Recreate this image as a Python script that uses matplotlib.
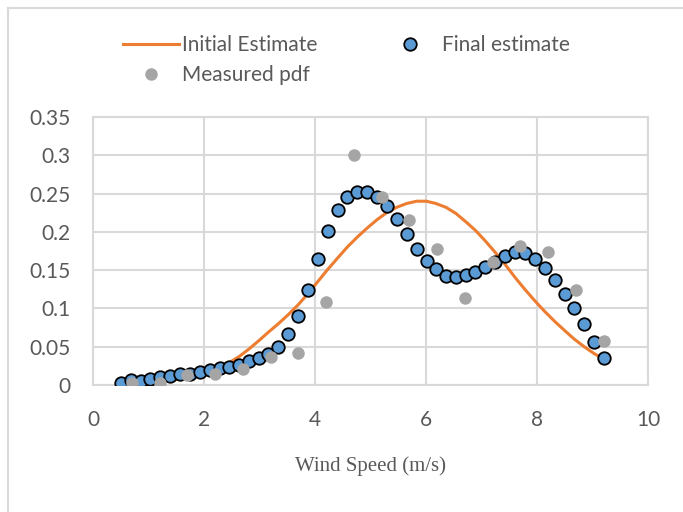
import matplotlib
matplotlib.use('Agg')
from matplotlib import pyplot as plt
from matplotlib.lines import Line2D

### DATA
# final estimate (blue markers) and initial estimate (orange line) share the x grid
speed_fit = [0.50, 0.68, 0.86, 1.03, 1.21, 1.39, 1.57, 1.74, 1.92, 2.10,
             2.28, 2.45, 2.63, 2.81, 2.99, 3.16, 3.34, 3.52, 3.70, 3.87,
             4.05, 4.23, 4.41, 4.58, 4.76, 4.94, 5.12, 5.29, 5.47, 5.65,
             5.83, 6.01, 6.18, 6.36, 6.54, 6.72, 6.89, 7.07, 7.25, 7.43,
             7.61, 7.78, 7.96, 8.14, 8.32, 8.50, 8.67, 8.85, 9.03, 9.20]
final_pdf = [0.002, 0.0065, 0.005, 0.0074, 0.010, 0.0117, 0.014, 0.015, 0.0166, 0.0196,
             0.0226, 0.024, 0.026, 0.0317, 0.0348, 0.041, 0.050, 0.066, 0.090, 0.124,
             0.164, 0.201, 0.229, 0.246, 0.2515, 0.2515, 0.246, 0.234, 0.2166, 0.197,
             0.178, 0.162, 0.151, 0.142, 0.1405, 0.1435, 0.148, 0.154, 0.161, 0.168,
             0.174, 0.173, 0.165, 0.153, 0.137, 0.119, 0.100, 0.080, 0.0565, 0.0356]
initial_pdf = [0.001, 0.0015, 0.002, 0.003, 0.004, 0.006, 0.008, 0.011, 0.014, 0.018,
               0.023, 0.029, 0.037, 0.047, 0.058, 0.069, 0.080, 0.092, 0.105, 0.119,
               0.135, 0.151, 0.166, 0.180, 0.193, 0.205, 0.216, 0.225, 0.232, 0.237,
               0.240, 0.240, 0.237, 0.232, 0.224, 0.213, 0.202, 0.188, 0.173, 0.157,
               0.140, 0.125, 0.110, 0.096, 0.083, 0.071, 0.060, 0.050, 0.041, 0.034]

speed_meas = [0.7, 1.2, 1.7, 2.2, 2.7, 3.2, 3.7, 4.2, 4.7,
              5.2, 5.7, 6.2, 6.7, 7.2, 7.7, 8.2, 8.7, 9.2]
measured_pdf = [0.002, 0.002, 0.013, 0.015, 0.021, 0.036, 0.042, 0.108, 0.3005,
                0.245, 0.216, 0.177, 0.1135, 0.161, 0.182, 0.174, 0.124, 0.058]

x_ticks = [0, 2, 4, 6, 8, 10]
y_ticks = [0, 0.05, 0.1, 0.15, 0.2, 0.25, 0.3, 0.35]
y_tick_labels = ['0', '0.05', '0.1', '0.15', '0.2', '0.25', '0.3', '0.35']

### STYLE
grid_grey = '#D9D9D9'
text_grey = '#595959'
plt.rcParams['font.family'] = ['Lato', 'DejaVu Sans']

### FIGURE
fig = plt.figure(figsize = (6.83, 5.12), dpi = 100)
ax = fig.add_axes([93 / 683, 1 - 385 / 512, 555 / 683, 268 / 512])

ax.plot(speed_fit, initial_pdf, color = '#ED7D31', lw = 2.2, label = 'Initial Estimate', zorder = 2)
ax.plot(speed_fit, final_pdf, 'o', ms = 9, mfc = '#5B9BD5', mec = 'black', mew = 1.3,
        label = 'Final estimate', zorder = 3)
ax.plot(speed_meas, measured_pdf, 'o', ms = 9, mfc = '#A5A5A5', mec = '#A5A5A5', mew = 0,
        label = 'Measured pdf', zorder = 4)

ax.set_xlim(0, 10)
ax.set_ylim(0, 0.35)
ax.set_xticks(x_ticks)
ax.set_yticks(y_ticks)
ax.set_yticklabels(y_tick_labels)
ax.tick_params(length = 0, labelsize = 15, labelcolor = text_grey)
ax.tick_params(axis = 'y', pad = 16)
ax.tick_params(axis = 'x', pad = 18)
ax.grid(True, color = grid_grey, lw = 1.5)
ax.set_axisbelow(True)
for spine in ax.spines.values():
    spine.set_color(grid_grey)
    spine.set_linewidth(1.5)

ax.set_xlabel('Wind Speed (m/s)', family = 'Liberation Serif', fontsize = 15,
              color = text_grey, labelpad = 19)

# legend: matplotlib fills columns first, so order is line, measured, final
handles, labels = ax.get_legend_handles_labels()
order = [0, 2, 1]
fig.legend([handles[i] for i in order], [labels[i] for i in order],
           ncol = 2, loc = 'upper left', bbox_to_anchor = (123 / 683, 1 - 35 / 512),
           frameon = False, fontsize = 15, labelcolor = text_grey,
           handlelength = 2.7, handletextpad = 0.15, columnspacing = 3.1,
           labelspacing = 0.5, borderpad = 0, borderaxespad = 0)

# chart area border (only top and left edges are inside the crop)
fig.add_artist(Line2D([8 / 683, 8 / 683], [0, 1 - 8 / 512], color = grid_grey, lw = 1.5))
fig.add_artist(Line2D([8 / 683, 1], [1 - 8 / 512, 1 - 8 / 512], color = grid_grey, lw = 1.5))

fig.savefig('out.png', dpi = 100)
